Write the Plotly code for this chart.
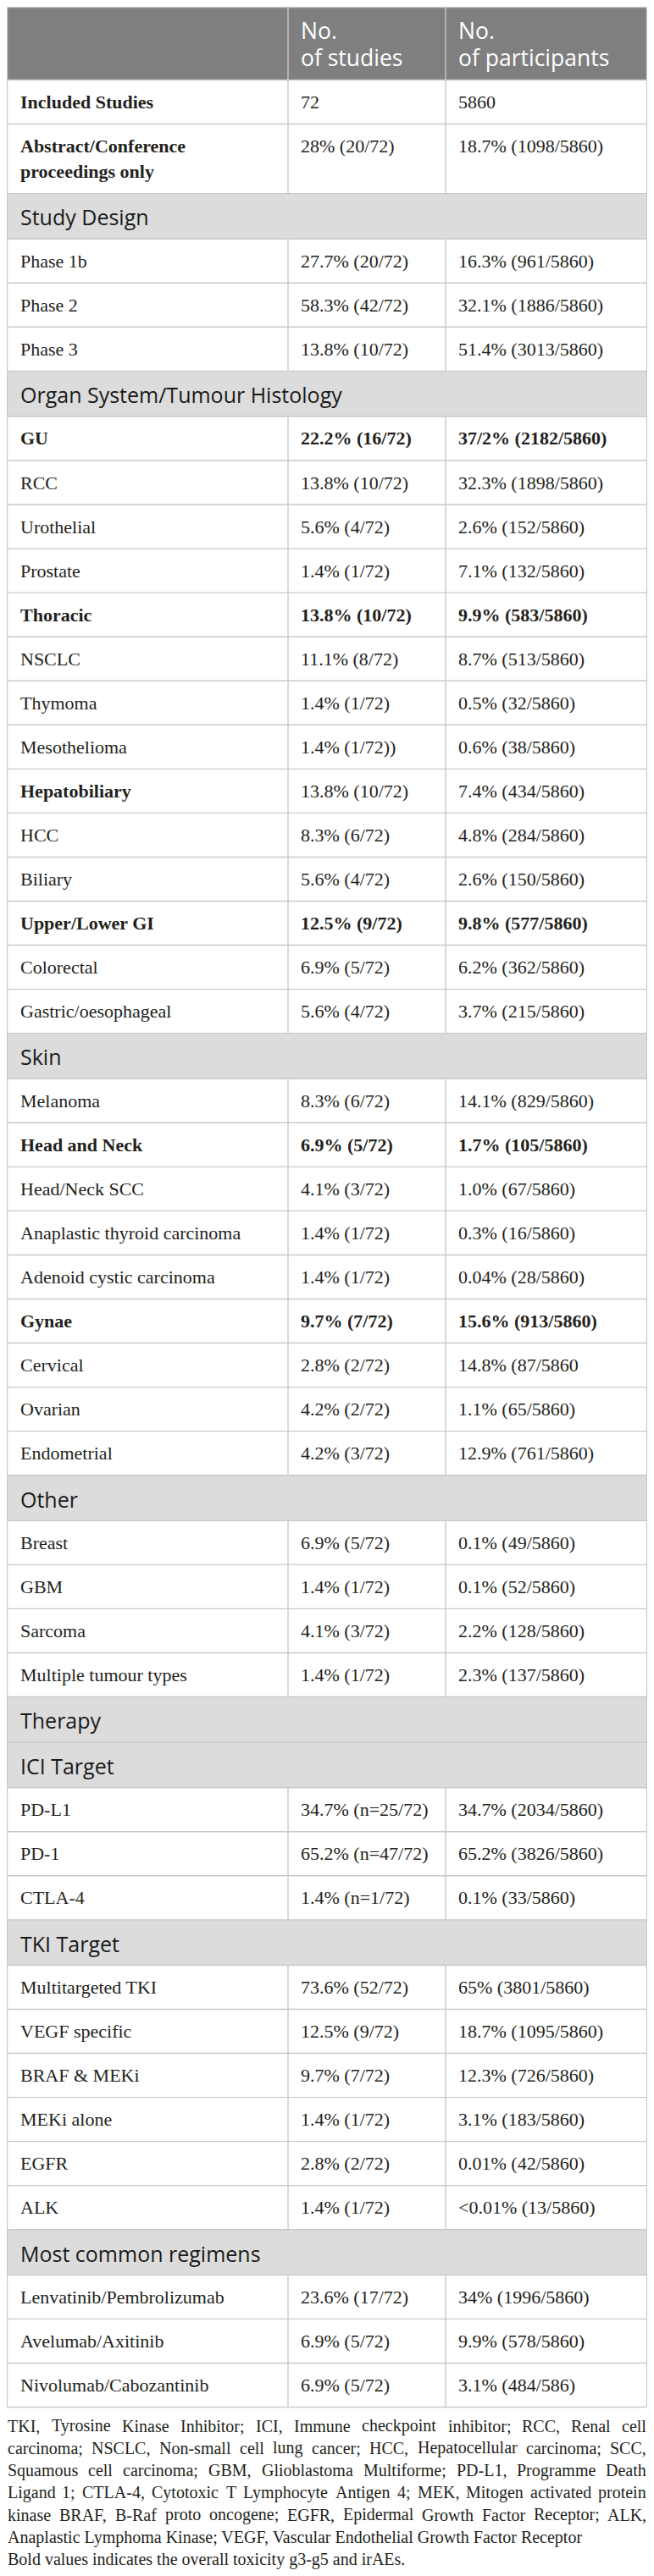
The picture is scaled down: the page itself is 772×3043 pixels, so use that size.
import plotly.graph_objects as go

# ── Table content ───────────────────────────────────────────────────────────
COL_HEADERS = ["", "No.<br>of studies", "No.<br>of participants"]

ROW_LABELS = [
    "Included Studies",
    "Abstract/Conference<br>proceedings only",
    "Study Design",
    "Phase 1b", "Phase 2", "Phase 3",
    "Organ System/Tumour Histology",
    "GU", "RCC", "Urothelial", "Prostate",
    "Thoracic", "NSCLC", "Thymoma", "Mesothelioma",
    "Hepatobiliary", "HCC", "Biliary",
    "Upper/Lower GI", "Colorectal", "Gastric/oesophageal",
    "Skin",
    "Melanoma",
    "Head and Neck", "Head/Neck SCC", "Anaplastic thyroid carcinoma",
    "Adenoid cystic carcinoma",
    "Gynae", "Cervical", "Ovarian", "Endometrial",
    "Other",
    "Breast", "GBM", "Sarcoma", "Multiple tumour types",
    "Therapy",
    "ICI Target",
    "PD-L1", "PD-1", "CTLA-4",
    "TKI Target",
    "Multitargeted TKI", "VEGF specific", "BRAF & MEKi", "MEKi alone",
    "EGFR", "ALK",
    "Most common regimens",
    "Lenvatinib/Pembrolizumab", "Avelumab/Axitinib", "Nivolumab/Cabozantinib",
]

STUDIES = [
    "72", "28% (20/72)",
    None,
    "27.7% (20/72)", "58.3% (42/72)", "13.8% (10/72)",
    None,
    "22.2% (16/72)", "13.8% (10/72)", "5.6% (4/72)", "1.4% (1/72)",
    "13.8% (10/72)", "11.1% (8/72)", "1.4% (1/72)", "1.4% (1/72))",
    "13.8% (10/72)", "8.3% (6/72)", "5.6% (4/72)",
    "12.5% (9/72)", "6.9% (5/72)", "5.6% (4/72)",
    None,
    "8.3% (6/72)",
    "6.9% (5/72)", "4.1% (3/72)", "1.4% (1/72)", "1.4% (1/72)",
    "9.7% (7/72)", "2.8% (2/72)", "4.2% (2/72)", "4.2% (3/72)",
    None,
    "6.9% (5/72)", "1.4% (1/72)", "4.1% (3/72)", "1.4% (1/72)",
    None,
    None,
    "34.7% (n=25/72)", "65.2% (n=47/72)", "1.4% (n=1/72)",
    None,
    "73.6% (52/72)", "12.5% (9/72)", "9.7% (7/72)", "1.4% (1/72)",
    "2.8% (2/72)", "1.4% (1/72)",
    None,
    "23.6% (17/72)", "6.9% (5/72)", "6.9% (5/72)",
]

PARTICIPANTS = [
    "5860", "18.7% (1098/5860)",
    None,
    "16.3% (961/5860)", "32.1% (1886/5860)", "51.4% (3013/5860)",
    None,
    "37/2% (2182/5860)", "32.3% (1898/5860)", "2.6% (152/5860)",
    "7.1% (132/5860)",
    "9.9% (583/5860)", "8.7% (513/5860)", "0.5% (32/5860)", "0.6% (38/5860)",
    "7.4% (434/5860)", "4.8% (284/5860)", "2.6% (150/5860)",
    "9.8% (577/5860)", "6.2% (362/5860)", "3.7% (215/5860)",
    None,
    "14.1% (829/5860)",
    "1.7% (105/5860)", "1.0% (67/5860)", "0.3% (16/5860)", "0.04% (28/5860)",
    "15.6% (913/5860)", "14.8% (87/5860", "1.1% (65/5860)", "12.9% (761/5860)",
    None,
    "0.1% (49/5860)", "0.1% (52/5860)", "2.2% (128/5860)", "2.3% (137/5860)",
    None,
    None,
    "34.7% (2034/5860)", "65.2% (3826/5860)", "0.1% (33/5860)",
    None,
    "65% (3801/5860)", "18.7% (1095/5860)", "12.3% (726/5860)",
    "3.1% (183/5860)", "0.01% (42/5860)", "<0.01% (13/5860)",
    None,
    "34% (1996/5860)", "9.9% (578/5860)", "3.1% (484/586)",
]

BOLD_LABELS = {"Included Studies", "Abstract/Conference<br>proceedings only",
               "GU", "Thoracic", "Hepatobiliary", "Upper/Lower GI",
               "Head and Neck", "Gynae"}
BOLD_VALUES = {"GU", "Thoracic", "Upper/Lower GI", "Head and Neck", "Gynae"}

FOOTNOTE_LINES = [
    "TKI, Tyrosine Kinase Inhibitor; ICI, Immune checkpoint inhibitor; RCC, Renal cell",
    "carcinoma; NSCLC, Non-small cell lung cancer; HCC, Hepatocellular carcinoma; SCC,",
    "Squamous cell carcinoma; GBM, Glioblastoma Multiforme; PD-L1, Programme Death",
    "Ligand 1; CTLA-4, Cytotoxic T Lymphocyte Antigen 4; MEK, Mitogen activated protein",
    "kinase BRAF, B-Raf proto oncogene; EGFR, Epidermal Growth Factor Receptor; ALK,",
    "Anaplastic Lymphoma Kinase; VEGF, Vascular Endothelial Growth Factor Receptor",
    "Bold values indicates the overall toxicity g3-g5 and irAEs.",
]
# lines that close a paragraph are not stretched to the full width
FOOTNOTE_JUSTIFIED = [True, True, True, True, True, False, False]

# ── Style constants (all in page pixels) ────────────────────────────────────
W, H = 772, 3043
BODY_MARGIN = 8          # default <body> margin around the plot div
X_LEFT, X_RIGHT = 8.5, 763.5
COL_X = [X_LEFT, 340, 526]
PAD_X = 15
TOP = 8.5
HEADER_H = 86
ROW_H = 52.05
SECTION_H = 53.6
LINE_STEP = 30
FIRST_LINE = 26

COLOR_HEADER = "#7f7f7f"
COLOR_SECTION = "#dcdcdc"
COLOR_BORDER = "#c9c9c9"
COLOR_TEXT = "#231f20"

SERIF = "Liberation Serif, Times New Roman, serif"
SANS = "Open Sans, Noto Sans, sans-serif"
BODY_SIZE = 22
HEAD_SIZE = 26.5
SECTION_SIZE = 25
NOTE_SIZE = 20
NOTE_STEP = 26.3

# Times-style advance widths (1/1000 em), used to spread footnote words
_TW = dict(zip("abcdefghijklmnopqrstuvwxyz",
               [444, 500, 444, 500, 444, 333, 500, 500, 278, 278, 500, 278,
                778, 500, 500, 500, 500, 333, 389, 278, 500, 500, 722, 500,
                500, 444]))
_TW.update(zip("ABCDEFGHIJKLMNOPQRSTUVWXYZ",
               [722, 667, 667, 722, 611, 556, 722, 722, 333, 389, 722, 611,
                889, 722, 722, 556, 722, 667, 556, 611, 722, 722, 944, 722,
                722, 611]))
_TW.update({c: 500 for c in "0123456789"})
_TW.update({",": 250, ".": 250, ";": 278, ":": 278, "-": 333, "/": 278,
            "(": 333, ")": 333, " ": 250})


def text_width(s, size):
    return sum(_TW.get(c, 500) for c in s) * size / 1000.0


fig = go.Figure()
shapes = []
annotations = []


def add_text(x, y, text, font, anchor="left"):
    annotations.append(dict(
        x=x, y=y, xref="x", yref="y", text=text, showarrow=False,
        xanchor=anchor, yanchor="middle", font=font, borderpad=0,
        borderwidth=0,
    ))


def hline(y, x0=X_LEFT, x1=X_RIGHT):
    shapes.append(dict(type="line", xref="x", yref="y", x0=x0, x1=x1,
                       y0=y, y1=y, line=dict(color=COLOR_BORDER, width=1.4)))


def vline(x, y0, y1):
    shapes.append(dict(type="line", xref="x", yref="y", x0=x, x1=x,
                       y0=y0, y1=y1, line=dict(color=COLOR_BORDER, width=1.4)))


# ── Header ──────────────────────────────────────────────────────────────────
shapes.append(dict(type="rect", xref="x", yref="y", x0=X_LEFT, x1=X_RIGHT,
                   y0=TOP, y1=TOP + HEADER_H, fillcolor=COLOR_HEADER,
                   line=dict(width=0), layer="below"))
for ci, head in enumerate(COL_HEADERS):
    for k, part in enumerate(head.split("<br>")):
        if part:
            add_text(COL_X[ci] + PAD_X, TOP + 27 + 32 * k, part,
                     dict(family=SANS, size=HEAD_SIZE, color="white"))
hline(TOP)
vline(COL_X[1], TOP, TOP + HEADER_H)
vline(COL_X[2], TOP, TOP + HEADER_H)

# ── Body rows ───────────────────────────────────────────────────────────────
y = TOP + HEADER_H
for label, stud, part in zip(ROW_LABELS, STUDIES, PARTICIPANTS):
    is_section = stud is None
    lines = label.split("<br>")
    if is_section:
        h = SECTION_H
        shapes.append(dict(type="rect", xref="x", yref="y", x0=X_LEFT,
                           x1=X_RIGHT, y0=y, y1=y + h,
                           fillcolor=COLOR_SECTION, line=dict(width=0),
                           layer="below"))
        add_text(COL_X[0] + PAD_X, y + h / 2 + 1, label,
                 dict(family=SANS, size=SECTION_SIZE, color="#1a1a1a"))
    else:
        h = ROW_H + LINE_STEP * (len(lines) - 1)
        lab_font = dict(family=SERIF, size=BODY_SIZE, color=COLOR_TEXT)
        val_font = dict(family=SERIF, size=BODY_SIZE, color=COLOR_TEXT)
        if label in BOLD_LABELS:
            lab_font["weight"] = "bold"
        if label in BOLD_VALUES:
            val_font["weight"] = "bold"
        for k, ln in enumerate(lines):
            add_text(COL_X[0] + PAD_X, y + FIRST_LINE + LINE_STEP * k, ln,
                     lab_font)
        add_text(COL_X[1] + PAD_X, y + FIRST_LINE, stud, val_font)
        add_text(COL_X[2] + PAD_X, y + FIRST_LINE, part, val_font)
        vline(COL_X[1], y, y + h)
        vline(COL_X[2], y, y + h)
    hline(y)
    y += h
hline(y)
vline(X_LEFT, TOP, y)
vline(X_RIGHT, TOP, y)

# ── Footnote (justified like the journal layout) ───────────────────────────
# anchors stay inside the axis range, otherwise plotly hides the annotation
NOTE_L, NOTE_R = X_LEFT + 0.1, X_RIGHT - 0.1
note_font = dict(family=SERIF, size=NOTE_SIZE, color=COLOR_TEXT)
for k, (note, justify) in enumerate(zip(FOOTNOTE_LINES, FOOTNOTE_JUSTIFIED)):
    yk = y + 22 + NOTE_STEP * k
    if not justify:
        add_text(NOTE_L, yk, note, note_font)
        continue
    words = note.split(" ")
    widths = [text_width(wd, NOTE_SIZE) for wd in words]
    gap = (NOTE_R - NOTE_L - sum(widths)) / (len(words) - 1)
    xw = NOTE_L
    last = len(words) - 1
    for i, (wd, ww) in enumerate(zip(words, widths)):
        if i == 0:
            add_text(NOTE_L, yk, wd, note_font, "left")
        elif i == last:
            add_text(NOTE_R, yk, wd, note_font, "right")
        else:
            add_text(xw + ww / 2, yk, wd, note_font, "center")
        xw += ww + gap

# the plot div sits inside the page's default body margin, so the figure is
# shrunk by that margin and the axes map straight onto page pixels
fig.update_layout(
    width=W - 2 * BODY_MARGIN, height=H - 2 * BODY_MARGIN,
    margin=dict(l=0, r=0, t=0, b=0),
    plot_bgcolor="white", paper_bgcolor="white",
    xaxis=dict(range=[BODY_MARGIN, W - BODY_MARGIN], visible=False,
               fixedrange=True),
    yaxis=dict(range=[H - BODY_MARGIN, BODY_MARGIN], visible=False,
               fixedrange=True),
    shapes=shapes,
    annotations=annotations,
    showlegend=False,
)

fig.write_html("out.html", config={"displayModeBar": False})
